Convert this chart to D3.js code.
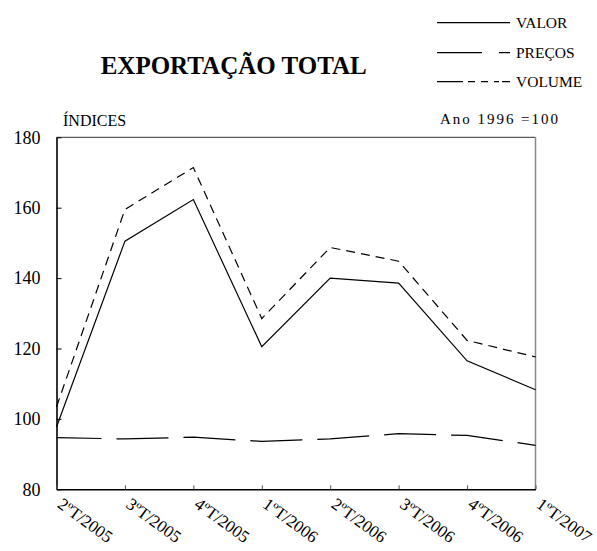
<!DOCTYPE html>
<html>
<head>
<meta charset="utf-8">
<script src="https://cdn.jsdelivr.net/npm/d3@7"></script>
<style>
  body { margin: 0; background: #fff; }
</style>
</head>
<body>
<script>
// quarters on the x axis
const categories = ["2ºT/2005", "3ºT/2005", "4ºT/2005", "1ºT/2006",
                    "2ºT/2006", "3ºT/2006", "4ºT/2006", "1ºT/2007"];

// index values (1996 = 100)
const valor  = [97.7, 150.5, 162.3, 120.5, 140.0, 138.6, 116.5, 108.3];
const precos = [94.7, 94.3, 94.8, 93.6, 94.3, 95.8, 95.3, 92.5];
const volume = [103.4, 159.5, 171.4, 128.5, 148.7, 144.8, 122.3, 117.6];

const yTicks = [80, 100, 120, 140, 160, 180];

const seriesNames = ["VALOR", "PREÇOS", "VOLUME"];

const W = 597, H = 551;
const plot = {left: 56.5, right: 535.5, top: 137.3, bottom: 489.3};

const svg = d3.select("body").append("svg")
  .attr("width", W)
  .attr("height", H)
  .attr("font-family", "Liberation Serif");

const x = d3.scalePoint()
  .domain(categories)
  .range([plot.left, plot.right]);

const y = d3.scaleLinear()
  .domain([80, 180])
  .range([plot.bottom, plot.top]);

// top and right border of the plot box
svg.append("line")
  .attr("x1", plot.left).attr("x2", plot.right)
  .attr("y1", plot.top).attr("y2", plot.top)
  .attr("stroke", "#333").attr("stroke-width", 1);
svg.append("line")
  .attr("x1", plot.right).attr("x2", plot.right)
  .attr("y1", plot.top).attr("y2", plot.bottom)
  .attr("stroke", "#888").attr("stroke-width", 1.5);

// y axis, ticks pointing inward
const gy = svg.append("g")
  .attr("transform", `translate(${plot.left},0)`)
  .call(d3.axisLeft(y)
    .tickValues(yTicks)
    .tickSizeInner(-5)
    .tickSizeOuter(0)
    .tickPadding(16));
gy.attr("font-family", "Liberation Serif").attr("font-size", 18);
gy.select(".domain").attr("stroke", "#000").attr("stroke-width", 1.6);
gy.selectAll(".tick line").attr("stroke", "#000");
gy.selectAll(".tick text").attr("fill", "#000");

// x axis, labels drawn rotated
const gx = svg.append("g")
  .attr("transform", `translate(0,${plot.bottom})`)
  .call(d3.axisBottom(x)
    .tickSizeInner(-4)
    .tickSizeOuter(0));
gx.attr("font-family", "Liberation Serif").attr("font-size", 17);
gx.select(".domain").attr("stroke", "#000").attr("stroke-width", 1.6);
gx.selectAll(".tick line").attr("stroke", "#555");
gx.selectAll(".tick text")
  .attr("fill", "#000")
  .attr("text-anchor", "start")
  .attr("y", 0)
  .attr("dy", "0.75em")
  .attr("transform", "translate(7,7) rotate(36)");

// series
const line = d3.line()
  .x((d, i) => x(categories[i]))
  .y(d => y(d));

svg.append("path")
  .datum(valor)
  .attr("d", line)
  .attr("fill", "none")
  .attr("stroke", "#000")
  .attr("stroke-width", 1.2);

svg.append("path")
  .datum(precos)
  .attr("d", line)
  .attr("fill", "none")
  .attr("stroke", "#000")
  .attr("stroke-width", 1.2)
  .attr("stroke-dasharray", "52,15")
  .attr("stroke-dashoffset", 7);

svg.append("path")
  .datum(volume)
  .attr("d", line)
  .attr("fill", "none")
  .attr("stroke", "#000")
  .attr("stroke-width", 1.2)
  .attr("stroke-dasharray", "9,6");

// titles
svg.append("text")
  .attr("x", 100.7).attr("y", 73.5)
  .attr("font-size", 25)
  .attr("font-weight", "bold")
  .attr("textLength", 266)
  .attr("lengthAdjust", "spacingAndGlyphs")
  .text("EXPORTAÇÃO TOTAL");

svg.append("text")
  .attr("x", 63).attr("y", 126)
  .attr("font-size", 16)
  .text("ÍNDICES");

svg.append("text")
  .attr("x", 440).attr("y", 124)
  .attr("font-size", 15)
  .attr("textLength", 118)
  .attr("lengthAdjust", "spacing")
  .text("Ano 1996 =100");

// legend
const legendRows = [
  {name: seriesNames[0], y: 22.7, dash: null},
  {name: seriesNames[1], y: 52.7, dash: "45,17,11"},
  {name: seriesNames[2], y: 81.7, dash: "26,5,7,6,7,6,5,3,8"}
];
legendRows.forEach(r => {
  svg.append("line")
    .attr("x1", 437).attr("x2", 510)
    .attr("y1", r.y).attr("y2", r.y)
    .attr("stroke", "#000")
    .attr("stroke-width", 1.2)
    .attr("stroke-dasharray", r.dash);
  svg.append("text")
    .attr("x", 516).attr("y", r.y + 5.5)
    .attr("font-size", 15.5)
    .text(r.name);
});
</script>
</body>
</html>
